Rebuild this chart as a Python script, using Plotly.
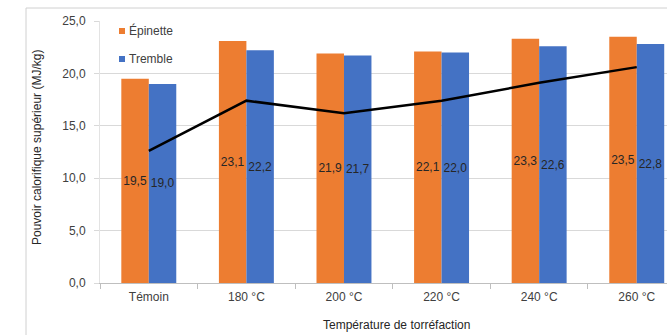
import plotly.graph_objects as go

# Categories and measured higher heating values (MJ/kg)
categories = ["Témoin", "180 °C", "200 °C", "220 °C", "240 °C", "260 °C"]
epinette = [19.5, 23.1, 21.9, 22.1, 23.3, 23.5]
tremble = [19.0, 22.2, 21.7, 22.0, 22.6, 22.8]
courbe = [12.6, 17.4, 16.2, 17.4, 19.1, 20.6]
y_ticks = [0, 5, 10, 15, 20, 25]

ORANGE = "#ED7D31"
BLUE = "#4472C4"
FONT = "Liberation Sans, Arial, sans-serif"


def fr(v):
    return f"{v:.1f}".replace(".", ",")


fig = go.Figure()

for name, vals, color in [("Épinette", epinette, ORANGE), ("Tremble", tremble, BLUE)]:
    fig.add_trace(go.Bar(
        x=categories, y=vals, name=name,
        marker=dict(color=color, line=dict(width=0)),
        text=[fr(v) for v in vals],
        textposition="inside", insidetextanchor="middle",
        textangle=0, constraintext="none",
        textfont=dict(family=FONT, size=12, color="#262626"),
        showlegend=False,
    ))

fig.add_trace(go.Scatter(
    x=categories, y=courbe, mode="lines",
    line=dict(color="#000000", width=2.5),
    showlegend=False,
))

# legend drawn as colored squares + labels
legend_items = [("Épinette", ORANGE, 31), ("Tremble", BLUE, 59)]
shapes = []
annotations = []
H_TOP, H_PLOT, W_PLOT, L = 21, 262, 567, 100


def px_x(x):
    return (x - L) / W_PLOT


def px_y(y):
    return (H_TOP + H_PLOT - y) / H_PLOT


for label, color, yc in legend_items:
    shapes.append(dict(type="rect", xref="paper", yref="paper",
                       x0=px_x(119), x1=px_x(125), y0=px_y(yc + 3), y1=px_y(yc - 3),
                       fillcolor=color, line=dict(width=0)))
    annotations.append(dict(text=label, xref="paper", yref="paper",
                            x=px_x(127), y=px_y(yc), xanchor="left", yanchor="middle",
                            showarrow=False,
                            font=dict(family=FONT, size=12, color="#404040")))

# chart-area border (top and left edges)
shapes.append(dict(type="line", xref="paper", yref="paper",
                   x0=px_x(26), x1=px_x(670), y0=px_y(8), y1=px_y(8),
                   line=dict(color="#D0D0D0", width=1)))
shapes.append(dict(type="line", xref="paper", yref="paper",
                   x0=px_x(26), x1=px_x(26), y0=px_y(8), y1=px_y(340),
                   line=dict(color="#D0D0D0", width=1)))

# axis titles
annotations.append(dict(text="Pouvoir calorifique supérieur (MJ/kg)",
                        xref="paper", yref="paper", x=px_x(37), y=px_y(148),
                        textangle=-90, showarrow=False,
                        xanchor="center", yanchor="middle",
                        font=dict(family=FONT, size=12, color="#262626")))
annotations.append(dict(text="Température de torréfaction",
                        xref="paper", yref="paper", x=px_x(396), y=px_y(325),
                        showarrow=False, xanchor="center", yanchor="middle",
                        font=dict(family=FONT, size=12, color="#262626")))

fig.update_layout(
    width=667, height=335,
    margin=dict(l=L, r=0, t=H_TOP, b=335 - H_TOP - H_PLOT),
    paper_bgcolor="white", plot_bgcolor="white",
    barmode="group", bargap=0.437, bargroupgap=0,
    separators=", ",
    font=dict(family=FONT, size=12, color="#404040"),
    shapes=shapes, annotations=annotations,
    showlegend=False,
)

fig.update_xaxes(
    type="category", range=[-0.5, 5.31],
    showline=True, linecolor="#BFBFBF", linewidth=1,
    ticks="outside", tickson="boundaries", ticklen=5, tickcolor="#BFBFBF",
    ticklabelstandoff=3,
    showgrid=False, zeroline=False,
    tickfont=dict(family=FONT, size=12, color="#404040"),
)
fig.update_yaxes(
    range=[0, 25], tickvals=y_ticks, tickformat=".1f",
    showgrid=True, gridcolor="#D9D9D9", gridwidth=1,
    showline=True, linecolor="#E3E3E3", linewidth=1,
    ticks="outside", ticklen=5, tickcolor="#D9D9D9",
    ticklabelstandoff=6, zeroline=False,
    tickfont=dict(family=FONT, size=12, color="#404040"),
)

fig.write_html("out.html", config=dict(displayModeBar=False))
